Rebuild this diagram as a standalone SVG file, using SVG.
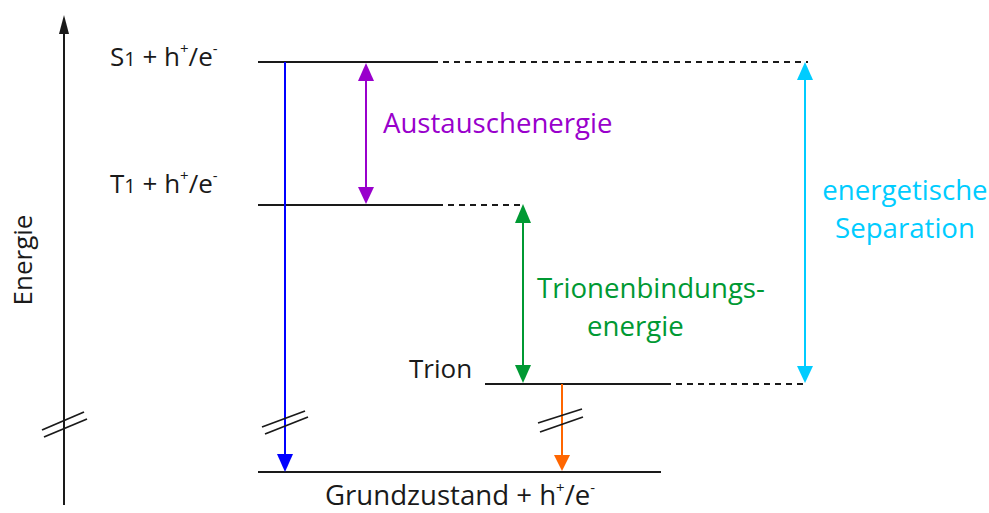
<svg xmlns="http://www.w3.org/2000/svg" width="989" height="513" viewBox="0 0 989 513">
<defs>
<style>
text{font-family:"Open Sans","Noto Sans",sans-serif;font-size:26px;fill:#1a1a1a}
.big{font-size:27.6px}
.lvl{stroke:#1a1a1a;stroke-width:2;fill:none}
.dash{stroke:#1a1a1a;stroke-width:2;stroke-dasharray:6,5;fill:none}
.brk{stroke:#1a1a1a;stroke-width:1.8;fill:none}
.sup{font-size:15px}
</style>
</defs>
<rect width="989" height="513" fill="#fff"/>
<g id="axis">
<line x1="64" y1="505" x2="64" y2="30" class="lvl"/>
<polygon points="64,15 59,34 69,34" fill="#1a1a1a"/>
<line x1="42" y1="430" x2="84" y2="412" class="brk"/>
<line x1="44" y1="437" x2="87" y2="419" class="brk"/>
<text transform="translate(32,260) rotate(-90)" text-anchor="middle">Energie</text>
</g>
<g id="S1">
<line x1="258" y1="62" x2="432" y2="62" class="lvl"/>
<text x="110" y="66">S<tspan font-size="20">1</tspan> + h<tspan class="sup" dy="-12">+</tspan><tspan dy="12">/e</tspan><tspan class="sup" dy="-12">-</tspan></text>
</g>
<g id="T1">
<line x1="258" y1="205" x2="437" y2="205" class="lvl"/>
<text x="110" y="193">T<tspan font-size="20">1</tspan> + h<tspan class="sup" dy="-12">+</tspan><tspan dy="12">/e</tspan><tspan class="sup" dy="-12">-</tspan></text>
</g>
<g id="Trion">
<line x1="485" y1="384" x2="665" y2="384" class="lvl"/>
<text x="409" y="378">Trion</text>
</g>
<g id="Ground">
<line x1="258" y1="472" x2="661" y2="472" class="lvl"/>
<text x="325" y="505" class="big">Grundzustand + h<tspan class="sup" dy="-12">+</tspan><tspan dy="12">/e</tspan><tspan class="sup" dy="-12">-</tspan></text>
</g>
<g id="connectors">
<line x1="432" y1="62" x2="808" y2="62" class="dash"/>
<line x1="437" y1="205" x2="524" y2="205" class="dash"/>
<line x1="665" y1="384" x2="808" y2="384" class="dash"/>
<line x1="285" y1="62" x2="285" y2="456" stroke="#0000ff" stroke-width="2"/>
<polygon points="285,472 277,454 293,454" fill="#0000ff"/>
<line x1="262" y1="427" x2="305" y2="411" class="brk"/>
<line x1="265" y1="434" x2="308" y2="417" class="brk"/>
<line x1="562" y1="384" x2="562" y2="457" stroke="#ff6600" stroke-width="2"/>
<polygon points="562,471 554,455 570,455" fill="#ff6600"/>
<line x1="538" y1="423" x2="582" y2="409" class="brk"/>
<line x1="540" y1="432" x2="583" y2="417" class="brk"/>
<line x1="366" y1="78" x2="366" y2="190" stroke="#9900cc" stroke-width="2"/>
<polygon points="366,63 358,81 374,81" fill="#9900cc"/>
<polygon points="366,204 358,187 374,187" fill="#9900cc"/>
<line x1="523" y1="220" x2="523" y2="368" stroke="#009933" stroke-width="2"/>
<polygon points="523,204 515,223 531,223" fill="#009933"/>
<polygon points="523,383 515,365 531,365" fill="#009933"/>
<line x1="805" y1="76" x2="805" y2="369" stroke="#00ccff" stroke-width="2"/>
<polygon points="805,62 797,80 813,80" fill="#00ccff"/>
<polygon points="805,383 797,366 813,366" fill="#00ccff"/>
</g>
<g id="labels">
<text x="383" y="133" class="big" style="fill:#9900cc">Austauschenergie</text>
<text x="537" y="298" class="big" style="fill:#009933">Trionenbindungs-</text>
<text x="587" y="336" class="big" style="fill:#009933">energie</text>
<text x="905" y="200" text-anchor="middle" class="big" style="fill:#00ccff">energetische</text>
<text x="905" y="238" text-anchor="middle" class="big" style="fill:#00ccff">Separation</text>
</g>
</svg>
